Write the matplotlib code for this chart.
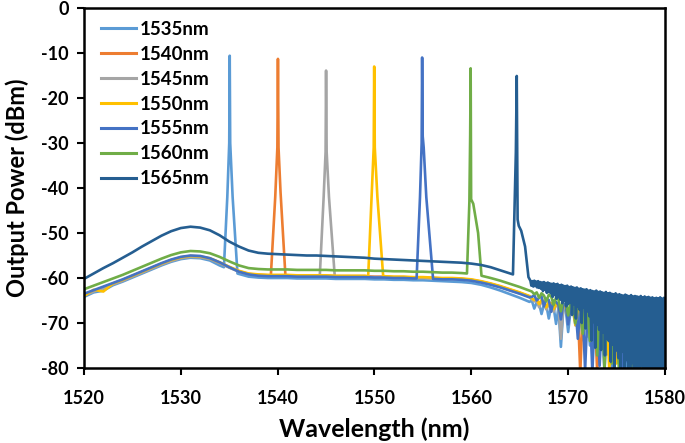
import numpy as np
import matplotlib
matplotlib.use("Agg")
import matplotlib.pyplot as plt
from matplotlib.ticker import FuncFormatter, MultipleLocator

plt.rcParams['font.family'] = ['Lato', 'DejaVu Sans']
plt.rcParams['font.weight'] = 'bold'
plt.rcParams['axes.unicode_minus'] = False

# sampling grids (nm)
wl_base = np.arange(1520, 1567)               # 1520..1566, 1 nm
wl_tail = np.arange(1566.25, 1580.01, 0.25)   # noisy roll-off
wl_base_1565 = np.arange(1520, 1565)
wl_tail_1565 = np.arange(1566.1, 1580.01, 0.1)

labels = ['1535nm', '1540nm', '1545nm', '1550nm', '1555nm', '1560nm', '1565nm']
colors = ['#5B9BD5', '#ED7D31', '#A5A5A5', '#FFC000', '#4472C4', '#70AD47', '#255E91']

# ---- 1535 nm ----
p1535_base = [-64.2, -63.2, -62.8, -61.6, -60.8, -59.9, -59.0, -58.1, -57.2, -56.4,
              -55.8, -55.5, -55.6, -56.1, -57.2, -58.1, -59.1, -59.7, -59.9, -60.0,
              -60.0, -60.0, -60.1, -60.1, -60.1, -60.1, -60.2, -60.2, -60.2, -60.2,
              -60.3, -60.3, -60.4, -60.4, -60.5, -60.5, -60.6, -60.7, -60.8, -60.9,
              -61.1, -61.5, -62.1, -62.8, -63.6, -64.4, -65.3]
p1535_tail = [-65.0, -66.8, -65.4, -65.7, -68.0, -65.9, -66.1, -69.0,
              -66.3, -66.5, -70.2, -66.6, -75.3, -66.9, -67.0, -72.0,
              -67.2, -67.3, -70.5, -67.5, -67.7, -73.8, -67.8, -68.0,
              -75.0, -68.1, -68.3, -77.5, -68.5, -68.6, -78.5, -68.8,
              -69.0, -80.5, -69.1, -69.3, -78.0, -69.4, -69.6, -80.5,
              -69.8, -69.9, -79.0, -70.0, -70.2, -81.0, -70.3, -70.5,
              -80.0, -70.6, -70.8, -78.5, -70.9, -71.0, -81.0, -71.1]
p1535_peak_wl = [1534.45, 1534.8, 1535.0, 1535.05, 1535.1, 1535.35, 1535.85]
p1535_peak_db = [-57.6, -42.0, -30.0, -10.6, -30.0, -42.0, -59.0]

# ---- 1540 nm ----
p1540_base = [-63.7, -62.9, -62.1, -61.3, -60.5, -59.6, -58.7, -57.8, -56.9, -56.1,
              -55.5, -55.2, -55.3, -55.7, -56.6, -57.6, -58.5, -59.1, -59.3, -59.4,
              -59.4, -59.4, -59.5, -59.5, -59.5, -59.5, -59.6, -59.6, -59.6, -59.6,
              -59.7, -59.7, -59.8, -59.8, -59.9, -59.9, -60.0, -60.1, -60.1, -60.2,
              -60.4, -60.8, -61.3, -61.9, -62.6, -63.3, -64.1]
p1540_tail = [-64.6, -65.0, -64.8, -66.2, -65.0, -65.3, -66.8, -65.5,
              -65.7, -67.0, -65.9, -66.1, -68.5, -66.3, -66.5, -69.2,
              -66.7, -66.9, -67.0, -67.2, -81.0, -67.4, -67.5, -71.5,
              -67.7, -67.9, -68.0, -81.0, -68.2, -68.4, -74.0, -68.5,
              -68.7, -76.5, -68.9, -69.0, -78.0, -69.2, -69.4, -77.0,
              -69.5, -69.7, -80.5, -69.8, -70.0, -76.0, -70.1, -70.3,
              -78.0, -70.4, -70.6, -79.5, -70.7, -70.9, -77.5, -71.0]
p1540_peak_wl = [1539.3, 1539.75, 1539.97, 1540.03, 1540.09, 1540.3, 1540.8]
p1540_peak_db = [-59.4, -42.0, -31.0, -11.3, -31.0, -41.0, -59.4]

# ---- 1545 nm ----
p1545_base = [-63.9, -63.0, -62.2, -61.4, -60.6, -59.7, -58.8, -57.9, -57.0, -56.2,
              -55.6, -55.3, -55.4, -55.8, -56.7, -57.7, -58.6, -59.2, -59.4, -59.5,
              -59.5, -59.5, -59.6, -59.6, -59.6, -59.6, -59.7, -59.7, -59.7, -59.7,
              -59.8, -59.8, -59.9, -59.9, -60.0, -60.0, -60.1, -60.2, -60.2, -60.3,
              -60.5, -60.9, -61.4, -62.0, -62.7, -63.4, -64.2]
p1545_tail = [-64.8, -65.2, -65.0, -66.5, -65.2, -65.5, -67.0, -65.7,
              -65.9, -67.5, -66.0, -66.2, -73.5, -66.4, -66.6, -69.5,
              -66.8, -67.0, -67.1, -71.0, -67.3, -67.5, -67.6, -73.0,
              -67.8, -68.0, -68.1, -75.5, -68.3, -68.5, -68.6, -77.0,
              -68.8, -69.0, -79.0, -69.1, -69.3, -69.4, -78.0, -69.6,
              -69.8, -69.9, -70.0, -80.5, -70.2, -70.3, -70.5, -78.5,
              -70.6, -70.8, -80.5, -70.9, -71.0, -71.2, -77.5, -71.3]
p1545_peak_wl = [1544.35, 1544.75, 1544.95, 1545.0, 1545.06, 1545.3, 1545.9]
p1545_peak_db = [-59.6, -42.0, -32.0, -13.9, -32.0, -42.0, -59.7]

# ---- 1550 nm ----
p1550_base = [-64.0, -62.6, -63.0, -61.2, -60.4, -59.5, -58.6, -57.7, -56.8, -56.0,
              -55.4, -55.1, -55.2, -55.6, -56.5, -57.5, -58.4, -59.0, -59.2, -59.3,
              -59.3, -59.3, -59.4, -59.4, -59.4, -59.4, -59.5, -59.5, -59.5, -59.5,
              -59.6, -59.6, -59.7, -59.7, -59.8, -59.8, -59.9, -60.0, -60.0, -60.1,
              -60.3, -60.7, -61.2, -61.8, -62.5, -63.2, -64.0]
p1550_tail = [-64.5, -64.9, -64.7, -65.8, -64.9, -65.2, -66.5, -65.4,
              -65.6, -66.9, -65.8, -66.0, -68.0, -66.2, -66.4, -69.0,
              -66.6, -66.8, -70.5, -67.0, -67.1, -72.0, -67.3, -67.4,
              -67.6, -74.5, -67.8, -67.9, -76.0, -68.1, -68.3, -68.4,
              -80.5, -68.6, -68.8, -79.0, -69.0, -69.1, -80.5, -69.3,
              -69.5, -69.6, -77.5, -69.8, -69.9, -80.0, -70.1, -70.2,
              -70.4, -79.0, -70.5, -70.7, -80.5, -70.8, -71.0, -78.0]
p1550_peak_wl = [1549.35, 1549.7, 1549.92, 1549.97, 1550.03, 1550.3, 1550.9]
p1550_peak_db = [-59.6, -42.0, -31.0, -13.0, -31.0, -42.0, -59.7]

# ---- 1555 nm ----
p1555_base = [-63.5, -62.7, -61.9, -61.1, -60.3, -59.4, -58.5, -57.6, -56.7, -55.9,
              -55.3, -55.0, -55.1, -55.6, -56.5, -57.6, -58.6, -59.2, -59.5, -59.6,
              -59.6, -59.6, -59.7, -59.7, -59.7, -59.7, -59.8, -59.8, -59.8, -59.8,
              -59.9, -59.9, -60.0, -60.0, -60.1, -60.1, -60.2, -60.3, -60.3, -60.4,
              -60.6, -61.0, -61.5, -62.1, -62.8, -63.5, -64.3]
p1555_tail = [-64.2, -63.8, -65.0, -64.4, -64.1, -66.3, -64.6, -64.9,
              -67.5, -65.0, -65.3, -66.0, -69.2, -65.7, -65.9, -70.3,
              -66.2, -66.5, -66.3, -73.5, -66.8, -67.0, -80.5, -67.1,
              -67.3, -81.0, -67.6, -67.5, -79.5, -67.9, -81.0, -68.1,
              -68.3, -68.2, -80.5, -68.6, -68.8, -81.0, -69.0, -78.5,
              -69.2, -69.4, -81.0, -69.5, -80.0, -69.7, -69.9, -81.0,
              -70.1, -79.0, -70.2, -70.4, -81.0, -70.5, -80.5, -70.7]
p1555_peak_wl = [1554.35, 1554.7, 1554.87, 1554.92, 1554.98, 1555.08, 1555.35, 1556.05]
p1555_peak_db = [-60.1, -42.0, -30.0, -11.0, -28.5, -31.0, -42.0, -60.2]

# ---- 1560 nm ----
p1560_base = [-62.5, -61.7, -60.9, -60.1, -59.3, -58.4, -57.5, -56.6, -55.7, -54.9,
              -54.3, -54.0, -54.1, -54.5, -55.3, -56.3, -57.2, -57.8, -58.0, -58.1,
              -58.1, -58.1, -58.2, -58.2, -58.2, -58.2, -58.3, -58.3, -58.3, -58.3,
              -58.4, -58.4, -58.5, -58.5, -58.6, -58.6, -58.7, -58.8, -58.8, -58.9,
              -59.1, -59.5, -60.0, -60.6, -61.3, -62.0, -62.8]
p1560_tail = [-63.0, -63.6, -63.2, -64.4, -63.4, -63.9, -65.2, -63.7,
              -64.1, -66.0, -64.3, -64.8, -67.4, -64.6, -65.0, -68.3,
              -65.2, -65.6, -70.1, -65.5, -66.2, -72.4, -65.9, -66.4,
              -74.0, -66.6, -67.0, -77.2, -66.8, -67.4, -80.5, -67.3,
              -67.8, -79.0, -68.0, -68.4, -81.0, -68.3, -76.5, -68.8,
              -69.0, -80.5, -69.2, -69.5, -78.0, -69.6, -81.0, -69.8,
              -70.0, -79.5, -70.1, -81.0, -70.3, -70.4, -80.0, -70.5]
p1560_peak_wl = [1559.55, 1559.8, 1559.88, 1559.93, 1559.98, 1560.2, 1560.7, 1561.05]
p1560_peak_db = [-59.0, -43.0, -28.5, -13.4, -42.5, -43.5, -50.0, -59.5]

# ---- 1565 nm ----
p1565_base = [-60.2, -59.0, -57.8, -56.7, -55.5, -54.3, -53.0, -51.8, -50.6, -49.6,
              -48.9, -48.6, -48.8, -49.4, -50.5, -51.9, -53.0, -53.9, -54.4, -54.6,
              -54.7, -54.8, -54.9, -55.0, -55.0, -55.1, -55.2, -55.3, -55.4, -55.5,
              -55.7, -55.8, -55.9, -56.0, -56.1, -56.2, -56.3, -56.4, -56.5, -56.6,
              -56.8, -57.1, -57.6, -58.3, -59.0]
p1565_tail = [-60.6, -61.7, -60.7, -61.9, -60.6, -61.8, -60.8, -62.1, -60.7, -62.2,
              -60.9, -62.4, -61.0, -62.9, -60.9, -62.6, -61.1, -63.3, -61.0, -63.0,
              -61.2, -63.4, -61.3, -64.2, -61.2, -63.8, -61.4, -64.6, -61.3, -64.3,
              -61.6, -64.8, -61.5, -65.6, -61.7, -65.1, -61.8, -66.3, -61.7, -65.8,
              -62.0, -65.4, -61.9, -68.2, -62.1, -65.8, -62.2, -69.0, -62.1, -66.4,
              -62.4, -67.1, -62.3, -70.0, -62.5, -66.6, -62.6, -71.2, -62.5, -67.4,
              -62.8, -68.5, -62.7, -73.9, -62.9, -69.8, -63.0, -75.5, -62.8, -70.4,
              -63.1, -71.5, -63.0, -76.0, -63.2, -72.1, -63.3, -77.2, -63.1, -73.4,
              -63.4, -74.0, -63.3, -78.6, -63.5, -74.8, -63.6, -80.0, -63.4, -76.1,
              -63.7, -77.8, -63.6, -81.5, -63.8, -76.4, -63.9, -80.6, -63.7, -78.2,
              -63.9, -80.4, -64.0, -81.5, -63.8, -78.9, -64.1, -82.0, -64.0, -80.8,
              -64.1, -81.2, -64.2, -82.4, -64.0, -79.6, -64.3, -83.0, -64.1, -81.7,
              -64.3, -82.2, -64.2, -80.9, -64.4, -83.1, -64.3, -81.4, -64.5, -82.6,
              -64.4, -81.0, -64.5, -83.2, -64.3, -81.9, -64.6, -82.8, -64.4, -79.5]
p1565_peak_wl = [1564.3, 1564.6, 1564.69, 1564.78, 1564.9, 1565.15, 1565.55, 1565.9]
p1565_peak_db = [-59.2, -32.0, -15.1, -47.0, -48.4, -49.5, -53.0, -59.8]

series = [
    (wl_base, p1535_base, wl_tail, p1535_tail, p1535_peak_wl, p1535_peak_db),
    (wl_base, p1540_base, wl_tail, p1540_tail, p1540_peak_wl, p1540_peak_db),
    (wl_base, p1545_base, wl_tail, p1545_tail, p1545_peak_wl, p1545_peak_db),
    (wl_base, p1550_base, wl_tail, p1550_tail, p1550_peak_wl, p1550_peak_db),
    (wl_base, p1555_base, wl_tail, p1555_tail, p1555_peak_wl, p1555_peak_db),
    (wl_base, p1560_base, wl_tail, p1560_tail, p1560_peak_wl, p1560_peak_db),
    (wl_base_1565, p1565_base, wl_tail_1565, p1565_tail, p1565_peak_wl, p1565_peak_db),
]


def build_trace(wb, pb, wt, pt, wp, pp):
    wb = np.asarray(wb, float)
    pb = np.asarray(pb, float)
    wt = np.asarray(wt, float)[:len(pt)]
    keep = (wb < min(wp)) | (wb > max(wp))
    wl = np.concatenate([wb[keep], wp, wt])
    db = np.concatenate([pb[keep], pp, pt])
    order = np.argsort(wl, kind='stable')
    return wl[order], db[order]


fig = plt.figure(figsize=(6.85, 4.43), dpi=100)
ax = fig.add_axes([0.1226, 0.1693, 0.8482, 0.8126])

for (wb, pb, wt, pt, wp, pp), lab, col in zip(series, labels, colors):
    x, y = build_trace(wb, pb, wt, pt, wp, pp)
    ax.plot(x, y, color=col, lw=1.9, label=lab, solid_joinstyle='round')

ax.set_xlim(1520, 1580)
ax.set_ylim(-80, 0)
ax.xaxis.set_major_locator(MultipleLocator(10))
ax.yaxis.set_major_locator(MultipleLocator(10))
fmt = FuncFormatter(lambda v, _: f"{int(round(v))}")
ax.xaxis.set_major_formatter(fmt)
ax.yaxis.set_major_formatter(fmt)

for sp in ax.spines.values():
    sp.set_color('black')
    sp.set_linewidth(1.8)
ax.tick_params(direction='out', length=5, width=1.5, labelsize=13, colors='black')
ax.tick_params(axis='y', pad=6)
ax.tick_params(axis='x', pad=11)
for t in ax.get_xticklabels() + ax.get_yticklabels():
    t.set_fontweight('bold')

ax.set_xlabel('Wavelength (nm)', fontsize=18, fontweight='bold', labelpad=7)
ax.set_ylabel('Output Power (dBm)', fontsize=17, fontweight='bold', labelpad=9)

leg = ax.legend(loc='upper left', bbox_to_anchor=(0.029, 0.964), frameon=False,
                fontsize=13.5, handlelength=1.9, handletextpad=0.2,
                labelspacing=0.42, borderaxespad=0, borderpad=0)
for t in leg.get_texts():
    t.set_fontweight('bold')
for h in leg.get_lines():
    h.set_linewidth(2.2)

fig.savefig('out.png', dpi=100)
